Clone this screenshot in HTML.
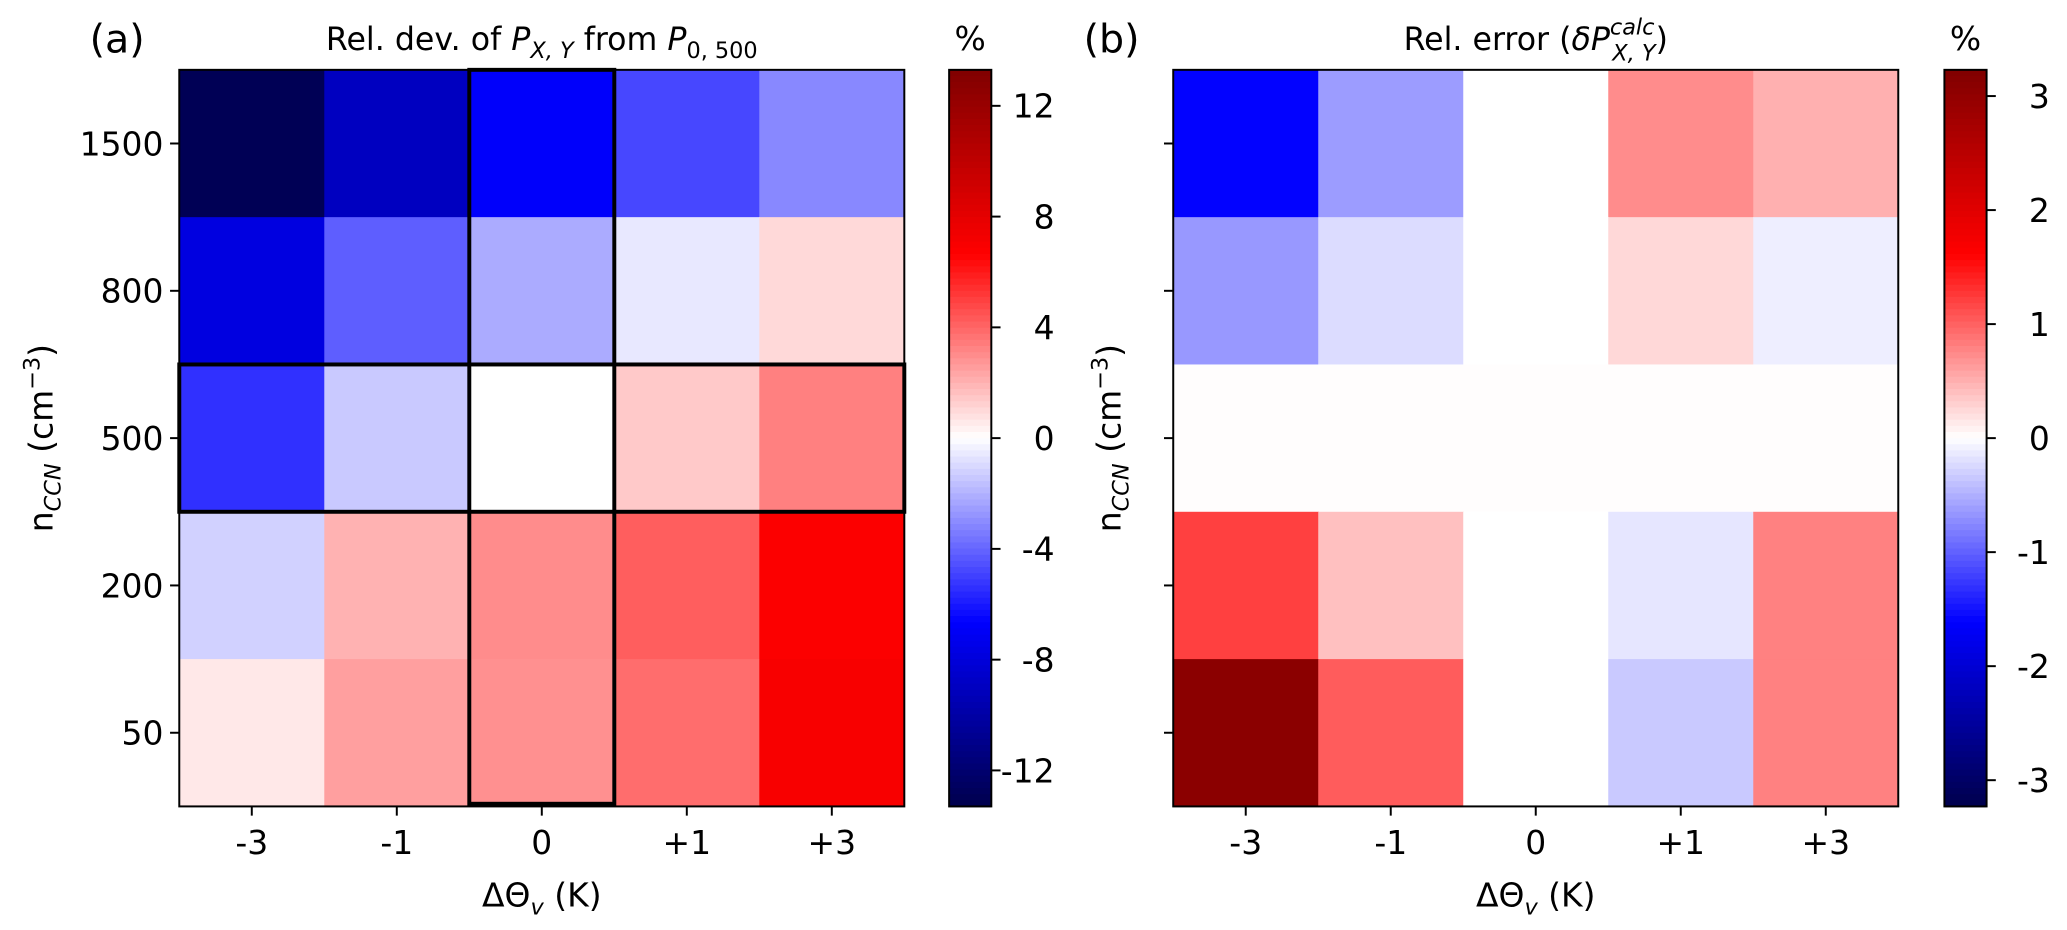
<!DOCTYPE html>
<html><head><meta charset="utf-8"><style>
body{margin:0;background:#fff;overflow:hidden;}
svg text{font-family:"DejaVu Sans","Liberation Sans",sans-serif;fill:#000;}
</style></head><body>
<svg id="fig" width="2067" height="925" viewBox="0 0 1568 702" preserveAspectRatio="none" xmlns="http://www.w3.org/2000/svg"></svg>
<script>
const xCats = ["-3","-1","0","+1","+3"];
const yCats = ["1500","800","500","200","50"];
const valuesA = [
 [-13.0,-9.0,-6.8,-4.8,-3.1],
 [-7.8,-4.2,-2.2,-0.6,1.0],
 [-5.4,-1.4,0.0,1.4,3.3],
 [-1.2,2.0,3.0,4.2,6.8],
 [0.6,2.5,2.9,3.8,7.0]
];
const valuesB = [
 [-1.6,-0.63,0.0,0.73,0.5],
 [-0.65,-0.22,0.0,0.25,-0.11],
 [0.01,0.01,0.01,0.01,0.01],
 [1.21,0.4,0.0,-0.16,0.8],
 [3.08,1.03,0.0,-0.34,0.8]
];
const ticksA = [-12,-8,-4,0,4,8,12];
const ticksB = [-3,-2,-1,0,1,2,3];
const rangeA = 13.3, rangeB = 3.23;

const NS="http://www.w3.org/2000/svg";
const svg=document.getElementById('fig');
function mk(tag,attrs,parent){const e=document.createElementNS(NS,tag);for(const k in attrs)e.setAttribute(k,attrs[k]);(parent||svg).appendChild(e);return e;}
function seismic(t){
  t=Math.max(0,Math.min(1,t));let r,g,b;
  if(t<0.25){const f=t/0.25;r=0;g=0;b=0.3+0.7*f;}
  else if(t<0.5){const f=(t-0.25)/0.25;r=f;g=f;b=1;}
  else if(t<0.75){const f=(t-0.5)/0.25;r=1;g=1-f;b=1-f;}
  else{const f=(t-0.75)/0.25;r=1-0.5*f;g=0;b=0;}
  return `rgb(${Math.round(r*255)},${Math.round(g*255)},${Math.round(b*255)})`;
}
const plotTop=53,plotBot=612;
function panel(id,left,right,vals,range,ticks,cbX,label,title,showY,bold){
  const g=mk('g',{});
  
  
  const cw=(right-left)/xCats.length, ch=(plotBot-plotTop)/yCats.length;
  const xc=i=>left+cw*(i+0.5), yc=j=>plotTop+ch*(j+0.5);
  vals.forEach((row,j)=>row.forEach((v,i)=>{
    const r=mk('rect',{x:left+cw*i,y:plotTop+ch*j,width:cw+0.5,height:ch+0.5,fill:seismic(0.5+v/(2*range))},g);
    
    
  }));
  if(bold){
    const c=2;
    mk('rect',{x:left+cw*c,y:plotTop,width:cw,height:plotBot-plotTop-2,fill:'none',stroke:'#000','stroke-width':3},g);
    mk('rect',{x:left,y:plotTop+ch*2,width:right-left,height:ch,fill:'none',stroke:'#000','stroke-width':3},g);
  }
  mk('rect',{x:left,y:plotTop,width:right-left,height:plotBot-plotTop,fill:'none',stroke:'#000','stroke-width':1.5},g);
  xCats.forEach((c,i)=>{
    mk('line',{x1:xc(i),x2:xc(i),y1:plotBot,y2:plotBot+7,stroke:'#000','stroke-width':1.5},g);
    const t=mk('text',{x:xc(i),y:plotBot+36,'font-size':25,'text-anchor':'middle'},g);t.textContent=c;
    
  });
  yCats.forEach((c,j)=>{
    mk('line',{x1:left-7,x2:left,y1:yc(j),y2:yc(j),stroke:'#000','stroke-width':1.5},g);
    if(showY){const t=mk('text',{x:left-12,y:yc(j)+9,'font-size':25,'text-anchor':'end'},g);t.textContent=c;
      }
  });
  const xt=mk('text',{x:(left+right)/2,y:plotBot+76,'font-size':25,'text-anchor':'middle'},g);
  xt.innerHTML='ΔΘ<tspan font-size="17" font-style="italic" dy="6">v</tspan><tspan dy="-6"> (K)</tspan>';
  
  const ytx=showY?40:left-40;
  const yt=mk('text',{x:0,y:0,'font-size':25,'text-anchor':'middle',transform:`translate(${ytx},${(plotTop+plotBot)/2}) rotate(-90)`},g);
  yt.innerHTML='n<tspan font-size="17" font-style="italic" dy="6">CCN</tspan><tspan dy="-6"> (cm</tspan><tspan font-size="17" dy="-10">−3</tspan><tspan dy="10">)</tspan>';
  
  const lb=mk('text',{x:left-68,y:40,'font-size':30},g);lb.textContent=label;
  
  const tt=mk('text',{x:(left+right)/2,y:38,'font-size':24,'text-anchor':'middle'},g);tt.innerHTML=title;
  
  const cb=mk('g',{},g);
  
  const N=120,cwid=32;
  for(let k=0;k<N;k++){
    const v=range-(2*range)*(k+0.5)/N;
    mk('rect',{x:cbX,y:plotTop+(plotBot-plotTop)*k/N,width:cwid,height:(plotBot-plotTop)/N+0.6,fill:seismic(0.5+v/(2*range))},cb);
  }
  mk('rect',{x:cbX,y:plotTop,width:cwid,height:plotBot-plotTop,fill:'none',stroke:'#000','stroke-width':1.5},cb);
  const ys=v=>plotTop+(plotBot-plotTop)*(range-v)/(2*range);
  ticks.forEach(v=>{
    mk('line',{x1:cbX+cwid,x2:cbX+cwid+7,y1:ys(v),y2:ys(v),stroke:'#000','stroke-width':1.5},cb);
    const t=mk('text',{x:cbX+cwid+48,y:ys(v)+9,'font-size':25,'text-anchor':'end'},cb);t.textContent=(v<0?'-':'')+Math.abs(v);
    
  });
  const pc=mk('text',{x:cbX+cwid/2,y:38,'font-size':25,'text-anchor':'middle'},cb);pc.textContent='%';
  
}
panel('a',136,686,valuesA,rangeA,ticksA,720,'(a)','Rel. dev. of <tspan font-style="italic">P</tspan><tspan font-style="italic" font-size="17" dy="6">X, Y</tspan><tspan dy="-6"> from </tspan><tspan font-style="italic">P</tspan><tspan font-size="17" dy="6">0, 500</tspan>',true,true);
panel('b',890,1440,valuesB,rangeB,ticksB,1475,'(b)','Rel. error (<tspan font-style="italic">δP</tspan><tspan font-style="italic" font-size="17" dy="-12">calc</tspan><tspan font-style="italic" font-size="17" dx="-32" dy="20">X, Y</tspan><tspan dy="-8">)</tspan>',false,false);
</script>
</body></html>
